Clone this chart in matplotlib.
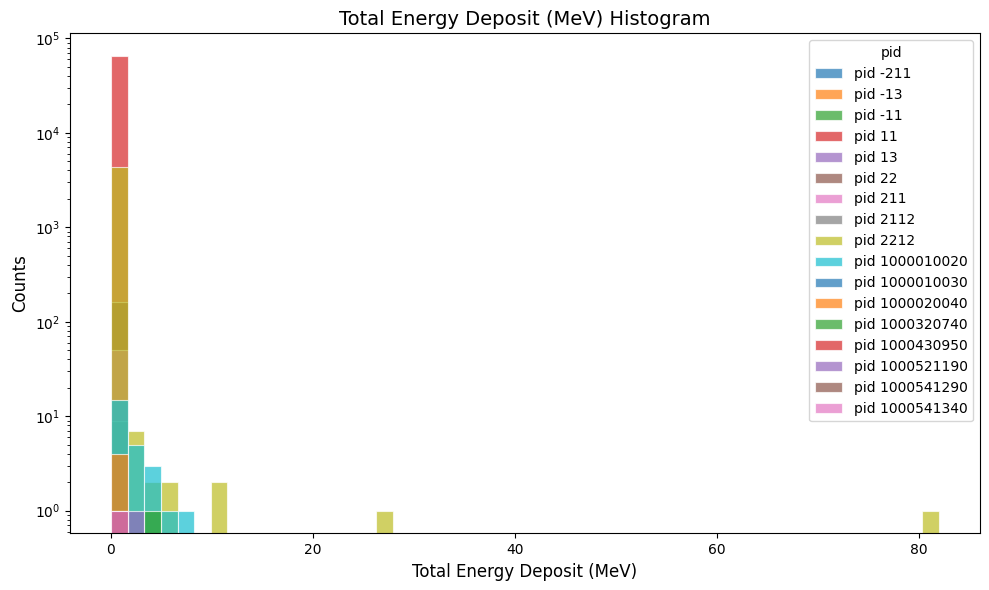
import numpy as np
import matplotlib
matplotlib.use("Agg")
import matplotlib.pyplot as plt

# particle ids in legend order
pids = [-211, -13, -11, 11, 13, 22, 211, 2112, 2212,
        1000010020, 1000010030, 1000020040, 1000320740,
        1000430950, 1000521190, 1000541290, 1000541340]

# histogram: 50 bins between the smallest and largest deposit (MeV)
n_bins = 50
e_min = 0.07
e_max = 82.0

# non-empty bins per pid (bin index -> count)
hit_bins = [
    [0], [0], [0], [0], [0], [0], [0], [0],
    [0, 1, 2, 3, 6, 16, 49],
    [0, 1, 2, 3, 4],
    [0], [0], [2], [0], [1], [0], [0],
]
hit_counts = [
    [2], [1], [3], [65000], [2], [162], [50], [9],
    [4400, 7, 2, 2, 2, 1, 1],
    [15, 5, 3, 1, 1],
    [1], [4], [1], [1], [1], [1], [1],
]

edges = np.linspace(e_min, e_max, n_bins + 1)
centers = 0.5 * (edges[:-1] + edges[1:])

fig, ax = plt.subplots(figsize=(9.89, 5.9), dpi=100)

for pid, bins, counts in zip(pids, hit_bins, hit_counts):
    w = np.zeros(n_bins)
    w[bins] = counts
    ax.hist(centers, bins=edges, weights=w, alpha=0.7,
            edgecolor='white', linewidth=0.8, label=f'pid {pid}')

ax.set_yscale('log')
ax.set_xlabel('Total Energy Deposit (MeV)', fontsize=12)
ax.set_ylabel('Counts', fontsize=12)
ax.set_title('Total Energy Deposit (MeV) Histogram', fontsize=14)
ax.legend(title='pid', loc='upper right')

fig.subplots_adjust(left=0.0708, right=0.991, top=0.9435, bottom=0.096)
plt.savefig('out.png', dpi=100)
